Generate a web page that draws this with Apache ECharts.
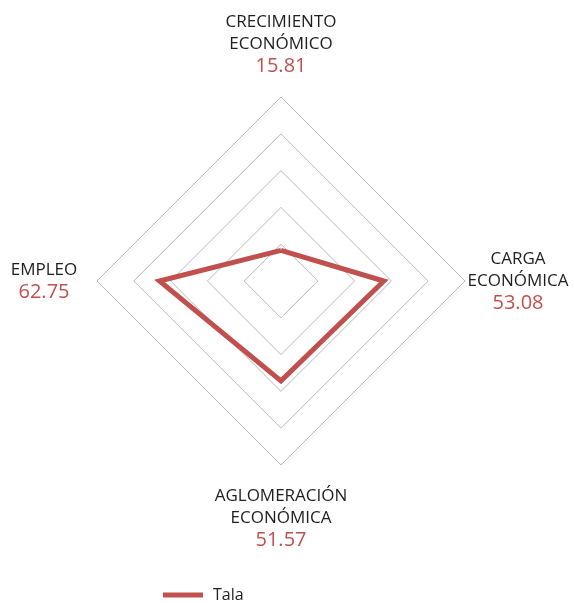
<!DOCTYPE html>
<html>
<head>
<meta charset="utf-8">
<script src="https://cdn.jsdelivr.net/npm/echarts@6/dist/echarts.min.js"></script>
<style>
html, body { margin: 0; padding: 0; background: #fff; }
#chart { width: 574px; height: 603px; }
</style>
</head>
<body>
<div id="chart"></div>
<script>
// datos del radar (orden antihorario desde arriba)
let msg = {
	legend: ["Tala"],
	indicators: ["CRECIMIENTO\nECONÓMICO", "EMPLEO", "AGLOMERACIÓN\nECONÓMICA", "CARGA\nECONÓMICA"],
	values: [15.81, 62.75, 51.57, 53.08],
};

let myCharts = echarts.init(document.getElementById("chart"));
let option = {
	textStyle: { fontFamily: "Open Sans" },
	legend: {
		data: msg.legend,
		left: 158,
		bottom: -5,
		icon: "rect",
		itemWidth: 40,
		itemHeight: 5,
		itemGap: 10,
		textStyle: { fontSize: 16, color: "#1e1e1e", fontFamily: "Open Sans", padding: [0, 0, 0, 5] },
	},
	radar: {
		center: [281, 281],
		radius: 184,
		startAngle: 90,
		shape: "polygon",
		splitNumber: 5,
		nameGap: 53,
		indicator: msg.indicators.map((n) => ({ name: n, max: 95, min: 0 })),
		axisName: {
			align: "center",
			verticalAlign: "middle",
			formatter: (name) => {
				let i = msg.indicators.indexOf(name);
				let lines = name.split("\n").map((l) => "{n|" + l + "}");
				return lines.join("\n") + "\n{v|" + msg.values[i].toFixed(2) + "}";
			},
			rich: {
				n: { fontSize: 17, color: "#1e1e1e", fontFamily: "Open Sans", lineHeight: 22, align: "center" },
				v: { fontSize: 20, color: "#c0504d", fontFamily: "Open Sans", lineHeight: 22, align: "center" },
			},
		},
		axisLine: { show: false },
		splitLine: { lineStyle: { color: "#b8b8b8", width: 1 } },
		splitArea: { show: false },
	},
	series: [
		{
			name: msg.legend[0],
			type: "radar",
			symbol: "none",
			lineStyle: { color: "#c0504d", width: 5, join: "miter" },
			itemStyle: { color: "#c0504d" },
			data: [{ name: msg.legend[0], value: msg.values }],
		},
	],
};
myCharts.setOption(option);
</script>
</body>
</html>
